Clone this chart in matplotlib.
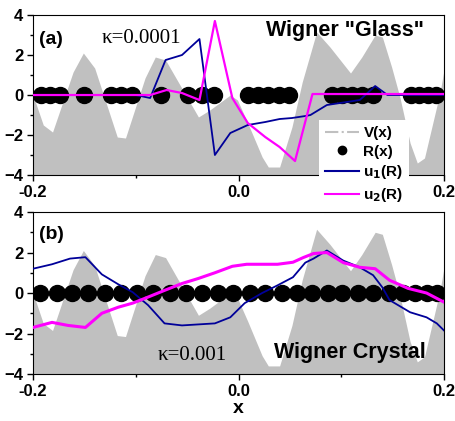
import numpy as np
import matplotlib
matplotlib.use('Agg')
import matplotlib.pyplot as plt
from matplotlib.lines import Line2D

# potential V(x), same in both panels
vx = [-0.200, -0.190, -0.181, -0.161, -0.151, -0.140, -0.118, -0.110, -0.091, -0.081,
      -0.071, -0.039, -0.028, -0.008, -0.001, 0.009, 0.023, 0.029, 0.040, 0.052,
      0.062, 0.076, 0.089, 0.109, 0.120, 0.133, 0.140, 0.149, 0.157, 0.167,
      0.174, 0.181, 0.196, 0.200]
vy = [0.0, -1.5, -1.85, 1.15, 2.1, 1.35, -2.1, -2.15, 0.85, 1.9,
      1.75, -1.1, -0.75, 0.0, -0.25, -1.4, -3.1, -3.6, -3.6, -1.6,
      0.65, 3.15, 2.4, 1.1, 1.9, 3.0, 2.9, 1.4, -0.1, -2.4,
      -3.4, -3.15, 0.1, 1.25]

# particle positions R(x)
ra = [-0.192, -0.183, -0.174, -0.150, -0.124, -0.114, -0.104, -0.075,
      -0.049, -0.036, -0.024, 0.009, 0.019, 0.029, 0.039, 0.049,
      0.091, 0.101, 0.110, 0.120, 0.131, 0.168, 0.176, 0.184, 0.192]
rb = [-0.193, -0.177, -0.162, -0.146, -0.130, -0.114, -0.099, -0.083, -0.067,
      -0.051, -0.036, -0.020, -0.005, 0.011, 0.026, 0.042, 0.057, 0.072, 0.087,
      0.101, 0.116, 0.131, 0.146, 0.160, 0.172, 0.183, 0.193]

# panel (a) modes
u1a_x = [-0.200, -0.100, -0.086, -0.071, -0.055, -0.038, -0.023, -0.008, 0.009, 0.026,
         0.040, 0.052, 0.065, 0.070, 0.086, 0.118, 0.133, 0.145, 0.200]
u1a_y = [0.0, 0.0, -0.15, 1.75, 2.0, 2.8, -3.0, -1.9, -1.5, -1.35,
         -1.2, -1.15, -1.05, -1.0, -0.5, -0.25, 0.45, 0.0, 0.0]
u2a_x = [-0.200, -0.086, -0.070, -0.055, -0.038, -0.023, -0.006, 0.009, 0.026, 0.040,
         0.055, 0.072, 0.200]
u2a_y = [0.0, 0.0, 0.25, 0.1, -0.25, 3.7, -0.15, -1.4, -2.1, -2.6,
         -3.3, 0.05, 0.05]

# panel (b) modes
u1b_x = [-0.200, -0.1815, -0.164, -0.149, -0.133, -0.117, -0.103, -0.088, -0.072, -0.055,
         -0.023, -0.008, 0.006, 0.023, 0.038, 0.053, 0.065, 0.073, 0.086, 0.102,
         0.118, 0.131, 0.140, 0.147, 0.167, 0.183, 0.193, 0.200]
u1b_y = [1.2, 1.42, 1.7, 1.77, 0.92, 0.43, 0.04, -0.6, -1.5, -1.6,
         -1.5, -1.2, -0.5, 0.0, 0.38, 0.78, 1.5, 1.7, 2.1, 1.6,
         1.27, 0.88, 0.28, -0.35, -0.95, -1.2, -1.5, -1.85]
u2b_x = [-0.200, -0.1815, -0.166, -0.149, -0.133, -0.117, -0.103, -0.088, -0.072, -0.055,
         -0.039, -0.023, -0.006, 0.008, 0.023, 0.038, 0.053, 0.063, 0.073, 0.086,
         0.102, 0.118, 0.133, 0.147, 0.165, 0.183, 0.200]
u2b_y = [-1.7, -1.45, -1.6, -1.7, -1.0, -0.7, -0.5, -0.2, 0.13, 0.47,
         0.72, 1.0, 1.32, 1.42, 1.42, 1.42, 1.52, 1.75, 1.95, 2.0,
         1.5, 1.27, 1.2, 0.63, 0.23, 0.0, -0.45]

navy = '#000099'
mag = '#FF00FF'
grey = '#C0C0C0'

plt.rcParams['font.family'] = 'Liberation Sans'
plt.rcParams['font.weight'] = 'bold'

fig = plt.figure(figsize=(4.56, 4.21), dpi=100)
ax1 = fig.add_axes([0.0724, 0.5843, 0.9013, 0.380])
ax2 = fig.add_axes([0.0724, 0.1116, 0.9013, 0.3848])

def panel(ax, r, ux1, uy1, ux2, uy2, lw2):
    ax.fill_between(vx, -4, vy, color=grey, lw=0, zorder=1)
    ax.plot(r, np.zeros(len(r)), 'o', color='black', ms=11.5, zorder=2)
    ax.plot(ux1, uy1, color=navy, lw=1.3, zorder=3)
    ax.plot(ux2, uy2, color=mag, lw=lw2, zorder=4)
    ax.set_xlim(-0.2, 0.2)
    ax.set_ylim(-4, 4)
    ax.set_xticks([-0.2, 0.0, 0.2])
    ax.set_xticks([-0.1, 0.1], minor=True)
    ax.set_yticks([-4, -2, 0, 2, 4])
    ax.set_yticks([-3, -1, 1, 3], minor=True)
    ax.set_xticklabels(['-0.2', '0.0', '0.2'])
    ax.tick_params(direction='out', labelsize=12, width=1, length=4, pad=3)
    ax.tick_params(which='minor', direction='out', width=1, length=2.5)
    for lab in ax.get_xticklabels() + ax.get_yticklabels():
        lab.set_fontweight('bold')

panel(ax1, ra, u1a_x, u1a_y, u2a_x, u2a_y, 1.6)
panel(ax2, rb, u1b_x, u1b_y, u2b_x, u2b_y, 2.2)

ax1.text(-0.194, 2.55, '(a)', fontsize=14, fontweight='bold')
ax1.text(-0.133, 2.6, 'κ=0.0001', fontsize=15, family='Liberation Serif', fontweight='normal')
ax1.text(0.104, 2.95, 'Wigner "Glass"', fontsize=15.5, fontweight='bold', ha='center')

ax2.text(-0.194, 2.65, '(b)', fontsize=14, fontweight='bold')
ax2.text(-0.079, -3.32, 'κ=0.001', fontsize=15, family='Liberation Serif', fontweight='normal')
ax2.text(0.108, -3.22, 'Wigner Crystal', fontsize=15.5, fontweight='bold', ha='center')

ax2.set_xlabel('x', fontsize=14, fontweight='bold', labelpad=1)

handles = [Line2D([], [], color=grey, lw=1.5, ls='-.'),
           Line2D([], [], color='black', marker='o', ls='none', ms=6),
           Line2D([], [], color=navy, lw=1.5),
           Line2D([], [], color=mag, lw=1.5)]
labels = ['V(x)', 'R(x)', r'u$_\mathbf{1}$(R)', r'u$_\mathbf{2}$(R)']
fig.legend(handles, labels, loc='upper left', bbox_to_anchor=(0.683, 0.733),
           frameon=True, facecolor='white', edgecolor='none', framealpha=1,
           fancybox=False, prop={'size': 11, 'weight': 'bold'},
           handlelength=2.2, handletextpad=0.3, labelspacing=0.3, borderpad=0.4)

fig.savefig('out.png', dpi=100)
